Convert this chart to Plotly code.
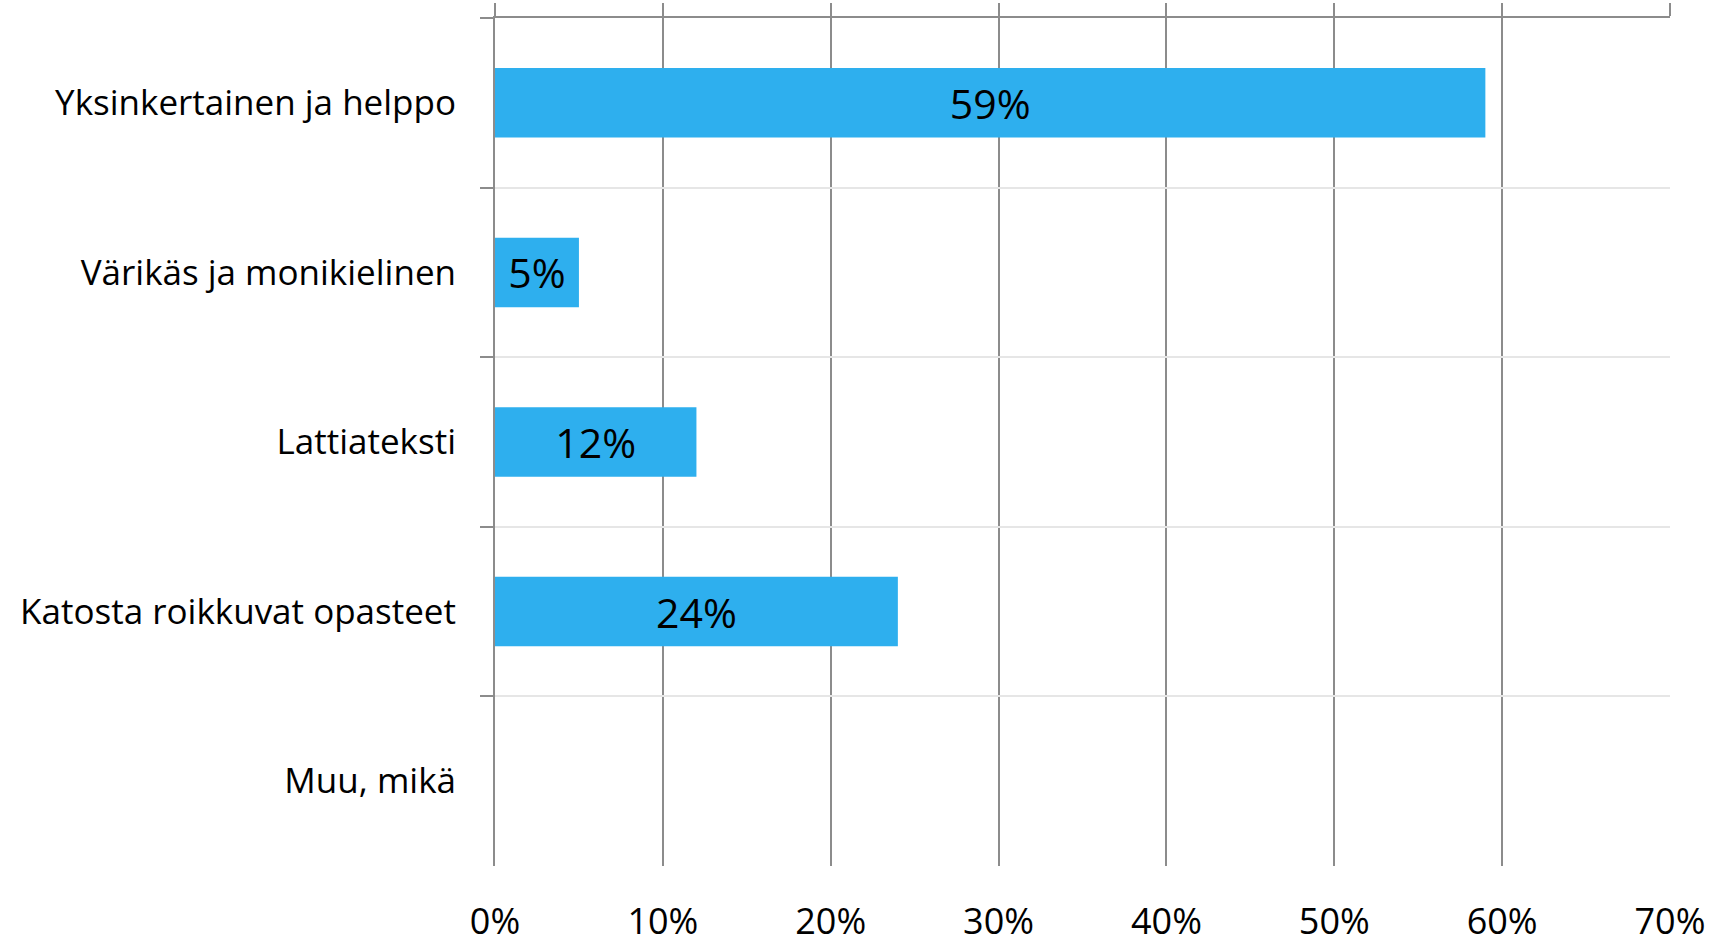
import plotly.graph_objects as go

categories = ["Yksinkertainen ja helppo", "Värikäs ja monikielinen", "Lattiateksti",
              "Katosta roikkuvat opasteet", "Muu, mikä"]
values = [59, 5, 12, 24, 0]
labels = [f"{v}%" if v > 0 else "" for v in values]
x_ticks = [0, 10, 20, 30, 40, 50, 60, 70]
x_ticktext = [f"{t}%" for t in x_ticks]

DARK = "#8C8C8C"
LIGHT = "#E6E6E6"
FONT = "Open Sans, Noto Sans, sans-serif"

fig = go.Figure()
fig.add_trace(go.Bar(
    x=values, y=categories, orientation="h",
    marker=dict(color="#2EAFEE", line=dict(width=0)),
    text=labels, textposition="inside", insidetextanchor="middle",
    textfont=dict(color="black", size=41, family=FONT),
    constraintext="none", hoverinfo="skip", width=0.41,
))
fig.add_trace(go.Scatter(
    x=[0], y=[categories[0]], mode="markers", marker=dict(opacity=0),
    xaxis="x2", hoverinfo="skip", showlegend=False,
))

fig.update_layout(
    width=1714, height=939,
    margin=dict(l=495, r=44, t=18, b=73),
    paper_bgcolor="white", plot_bgcolor="white",
    showlegend=False,
    font=dict(family=FONT, color="black"),
    xaxis=dict(
        range=[0, 70], tickvals=x_ticks, ticktext=x_ticktext,
        showgrid=True, gridcolor=DARK, gridwidth=2,
        zeroline=False, showline=False, ticks="",
        tickfont=dict(size=36, family=FONT), ticklabelstandoff=31,
        automargin=False,
    ),
    xaxis2=dict(
        overlaying="x", side="top", matches="x", range=[0, 70],
        tickvals=x_ticks, showticklabels=False, showgrid=False,
        showline=True, linecolor=DARK, linewidth=2,
        ticks="outside", ticklen=13, tickwidth=2, tickcolor=DARK, zeroline=False,
        automargin=False,
    ),
    yaxis=dict(
        type="category", categoryorder="array", categoryarray=categories,
        autorange="reversed", tickson="boundaries",
        showgrid=True, gridcolor=LIGHT, gridwidth=2,
        showline=True, linecolor=DARK, linewidth=2,
        ticks="outside", ticklen=13, tickwidth=2, tickcolor=DARK,
        tickfont=dict(size=35, family=FONT), ticklabelstandoff=30,
        automargin=False,
    ),
)

fig.write_html(
    "out.html",
    config={"displayModeBar": False},
    post_script="document.body.style.margin='0';document.body.style.overflow='hidden';",
)
